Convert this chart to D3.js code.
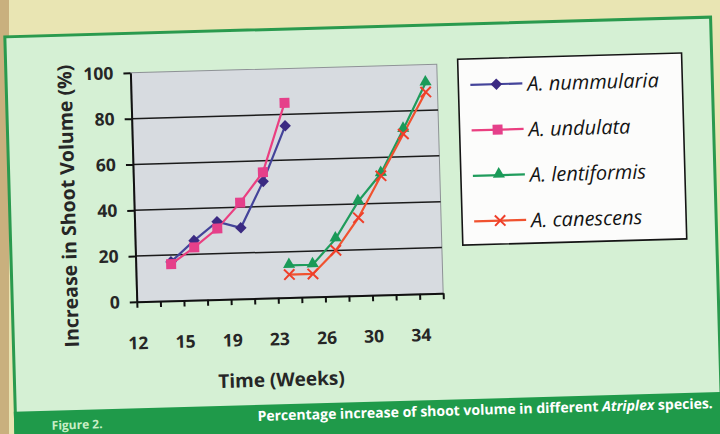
<!DOCTYPE html>
<html>
<head>
<meta charset="utf-8">
<script src="https://cdn.jsdelivr.net/npm/d3@7"></script>
<style>
  html, body { margin: 0; padding: 0; background: #e9e5b3; }
  svg { display: block; }
</style>
</head>
<body>
<svg id="chart" width="720" height="434"></svg>
<script>
// ---- data -------------------------------------------------------------
const slotCount = 13;                       // category slots along the time axis
const weekLabels = ["12", "15", "19", "23", "26", "30", "34"];
const yTicks = [0, 20, 40, 60, 80, 100];

const nummularia  = [null, 17, 26, 34, 31, 51, 75, null, null, null, null, null, null];
const undulata    = [null, 16, 23, 31, 42, 55, 85, null, null, null, null, null, null];
const lentiformis = [null, null, null, null, null, null, 14, 14, 25, 41, 53, 72, 92];
const canescens   = [null, null, null, null, null, null, 10, 10, 20, 34, 52, 70, 88];

const seriesNames = ["A. nummularia", "A. undulata", "A. lentiformis", "A. canescens"];

const yTitle = "Increase in Shoot Volume (%)";
const xTitle = "Time (Weeks)";
const figureLabel = "Figure 2.";
const captionParts = [
  { text: "Percentage increase of shoot volume in different ", italic: false },
  { text: "Atriplex", italic: true },
  { text: " species.", italic: false }
];

// ---- styles -----------------------------------------------------------
const styles = [
  { values: nummularia,  line: "#44449a", fill: "#3b2a82", marker: "diamond" },
  { values: undulata,    line: "#ea3f80", fill: "#e5408a", marker: "square" },
  { values: lentiformis, line: "#1f9c5c", fill: "#1a9a58", marker: "triangle" },
  { values: canescens,   line: "#f0522f", fill: "#ef3f2a", marker: "x" }
];

const svg = d3.select("#chart");
const W = 720, H = 434;

// page strip on the left edge
svg.append("rect").attr("x", 0).attr("y", 0).attr("width", W).attr("height", H).attr("fill", "#e9e5b3");
svg.append("rect").attr("x", 0).attr("y", 0).attr("width", 9).attr("height", H).attr("fill", "#c9b07e");

// everything on the page sits slightly tilted
const page = svg.append("g").attr("transform", "rotate(-1.6, 360, 217)");

// framed panel
page.append("rect")
  .attr("x", 10).attr("y", 27).attr("width", 706).attr("height", 430)
  .attr("fill", "#d5f0d4").attr("stroke", "#2a9a4e").attr("stroke-width", 3);

// caption band
page.append("rect")
  .attr("x", 8.5).attr("y", 402).attr("width", 709).attr("height", 60)
  .attr("fill", "#1f9a4a");

page.append("text")
  .attr("x", 46).attr("y", 421)
  .attr("font-family", "'Open Sans', sans-serif").attr("font-weight", 700)
  .attr("font-size", 12).attr("fill", "#c9efc6")
  .text(figureLabel);

const cap = page.append("text")
  .attr("x", 252).attr("y", 418)
  .attr("font-family", "'Open Sans', sans-serif").attr("font-weight", 700)
  .attr("font-size", 14).attr("fill", "#ffffff");
captionParts.forEach(p => {
  cap.append("tspan").attr("font-style", p.italic ? "italic" : "normal").text(p.text);
});

// ---- scales -----------------------------------------------------------
const plot = { left: 134.5, right: 441, top: 66.5, bottom: 295.5 };
const x = d3.scaleLinear().domain([0, slotCount]).range([plot.left, plot.right]);
const y = d3.scaleLinear().domain([0, 100]).range([plot.bottom, plot.top]);

// plot area
page.append("rect")
  .attr("x", plot.left).attr("y", plot.top)
  .attr("width", plot.right - plot.left).attr("height", plot.bottom - plot.top)
  .attr("fill", "#d7dbe0").attr("stroke", "#8e9296").attr("stroke-width", 1);

// gridlines
page.append("g").selectAll("line")
  .data(yTicks.filter(v => v > 0 && v < 100))
  .join("line")
  .attr("x1", plot.left).attr("x2", plot.right)
  .attr("y1", d => y(d)).attr("y2", d => y(d))
  .attr("stroke", "#1b1b1b").attr("stroke-width", 1.5);

const fontBold = "'Open Sans', sans-serif";
const textColor = "#262626";

// y axis
const yAxis = page.append("g")
  .attr("transform", `translate(${plot.left},0)`)
  .call(d3.axisLeft(y).tickValues(yTicks).tickSize(7).tickPadding(10).tickSizeOuter(0));
yAxis.select(".domain").attr("stroke", "#111").attr("stroke-width", 2);
yAxis.selectAll(".tick line").attr("stroke", "#111").attr("stroke-width", 2);
yAxis.selectAll(".tick text")
  .attr("font-family", fontBold).attr("font-weight", 700)
  .attr("font-size", 17.5).attr("fill", textColor);

// x axis: a tick at every slot boundary, labels on every other one
const xAxis = page.append("g")
  .attr("transform", `translate(0,${plot.bottom})`)
  .call(d3.axisBottom(x)
    .tickValues(d3.range(0, slotCount + 1))
    .tickFormat(i => (i % 2 === 0 && weekLabels[i / 2] !== undefined) ? weekLabels[i / 2] : "")
    .tickSize(6).tickPadding(29).tickSizeOuter(0));
xAxis.select(".domain").attr("stroke", "#111").attr("stroke-width", 2);
xAxis.selectAll(".tick line").attr("stroke", "#111").attr("stroke-width", 2);
xAxis.selectAll(".tick text")
  .attr("font-family", fontBold).attr("font-weight", 700)
  .attr("font-size", 17.5).attr("fill", textColor);

// axis titles
page.append("text")
  .attr("transform", "translate(68,198) rotate(-90)")
  .attr("text-anchor", "middle").attr("dominant-baseline", "central")
  .attr("font-family", fontBold).attr("font-weight", 700)
  .attr("font-size", 19.5).attr("fill", textColor)
  .text(yTitle);

page.append("text")
  .attr("x", 277).attr("y", 377)
  .attr("text-anchor", "middle").attr("dominant-baseline", "central")
  .attr("font-family", fontBold).attr("font-weight", 700)
  .attr("font-size", 19).attr("fill", textColor)
  .text(xTitle);

// ---- markers ----------------------------------------------------------
function drawMarker(sel, kind, color) {
  if (kind === "diamond") {
    sel.append("path").attr("d", d3.symbol(d3.symbolSquare, 66)())
      .attr("transform", "rotate(45)").attr("fill", color);
  } else if (kind === "square") {
    sel.append("path").attr("d", d3.symbol(d3.symbolSquare, 100)()).attr("fill", color);
  } else if (kind === "triangle") {
    sel.append("path").attr("d", d3.symbol(d3.symbolTriangle, 64)())
      .attr("transform", "translate(0,-1)").attr("fill", color);
  } else {
    const sym = d3.symbolX || d3.symbolTimes || d3.symbolCross;
    sel.append("path").attr("d", d3.symbol(sym, 72)())
      .attr("fill", "none").attr("stroke", color).attr("stroke-width", 2);
  }
}

const line = d3.line()
  .defined(d => d.v !== null)
  .x(d => x(d.i + 0.5))
  .y(d => y(d.v));

const seriesG = page.append("g");
styles.forEach(s => {
  const pts = s.values.map((v, i) => ({ i, v }));
  seriesG.append("path")
    .attr("d", line(pts))
    .attr("fill", "none").attr("stroke", s.line).attr("stroke-width", 2.2);
});
styles.forEach(s => {
  const pts = s.values.map((v, i) => ({ i, v })).filter(d => d.v !== null);
  seriesG.append("g").selectAll("g")
    .data(pts).join("g")
    .attr("transform", d => `translate(${x(d.i + 0.5)},${y(d.v)})`)
    .each(function () { drawMarker(d3.select(this), s.marker, s.fill); });
});

// ---- legend -----------------------------------------------------------
const legend = { x: 462, y: 62, w: 224, h: 186, rowTop: 88, rowGap: 45.5 };
page.append("rect")
  .attr("x", legend.x).attr("y", legend.y).attr("width", legend.w).attr("height", legend.h)
  .attr("fill", "#fcfcfb").attr("stroke", "#151515").attr("stroke-width", 1.6);

const rows = page.append("g").selectAll("g")
  .data(seriesNames).join("g")
  .attr("transform", (d, i) => `translate(0,${legend.rowTop + i * legend.rowGap})`);
rows.append("line")
  .attr("x1", 474).attr("x2", 526).attr("y1", 0).attr("y2", 0)
  .attr("stroke", (d, i) => styles[i].line).attr("stroke-width", 2.2);
rows.append("g").attr("transform", "translate(500,0)")
  .each(function (d, i) { drawMarker(d3.select(this), styles[i].marker, styles[i].fill); });
rows.append("text")
  .attr("x", 531).attr("y", 0).attr("dominant-baseline", "central")
  .attr("font-family", "'Open Sans', sans-serif").attr("font-style", "italic")
  .attr("font-size", 20).attr("fill", "#141414")
  .text(d => d);
</script>
</body>
</html>
